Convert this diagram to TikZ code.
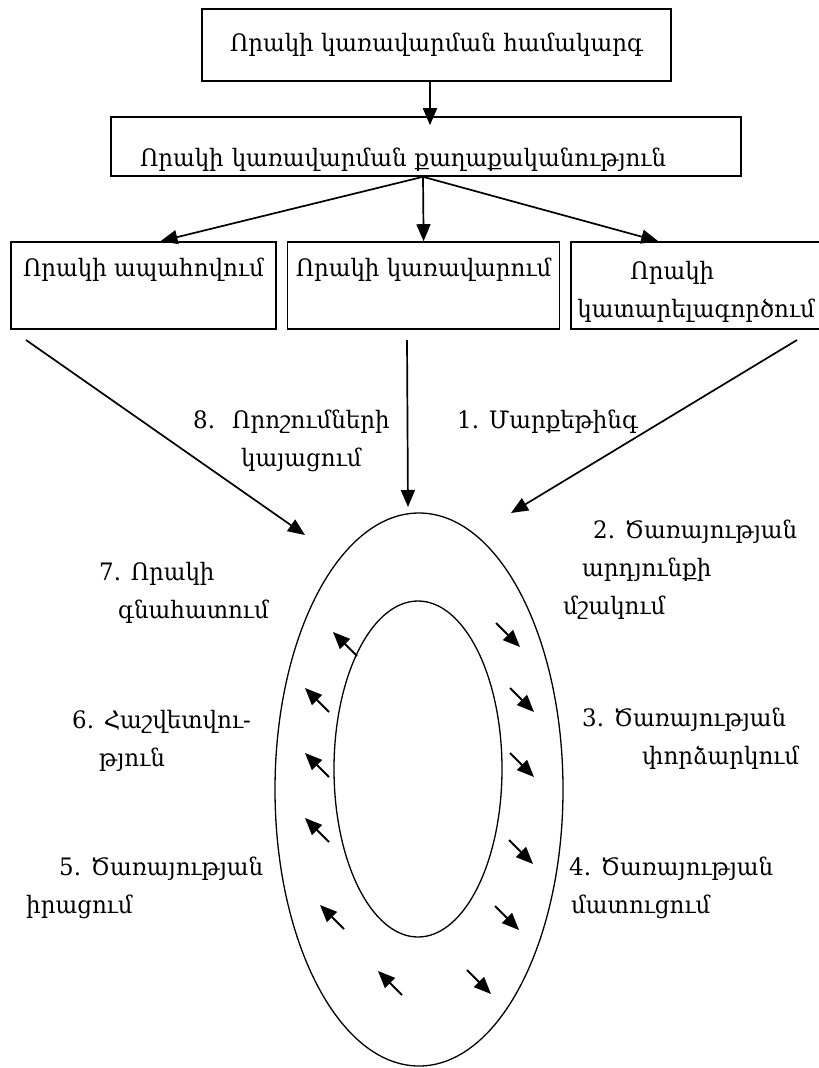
\documentclass[tikz,border=0pt]{standalone}
\usepackage{fontspec}
\setmainfont{DejaVu Serif}[FakeStretch=0.955]
\usetikzlibrary{arrows.meta,positioning}

\begin{document}
\begin{tikzpicture}[x=1pt,y=-1pt,
			node distance=10pt,
			tup/.style={draw,line width=1.6pt,inner sep=0pt,align=left,font=\fontsize{24}{38}\selectfont},
			grut/.style={inner sep=0pt,align=left,anchor=north west,font=\fontsize{24}{38}\selectfont},
			arr/.style={-{Triangle[length=17pt,width=14pt]},line width=1.7pt},
			sarr/.style={-{Triangle[length=17pt,width=14pt]},line width=2pt}
			]
			\useasboundingbox (0,0) rectangle (819,1068);
			% verin bloknery
			\node[tup,minimum width=469pt,minimum height=72pt] (hamakarg) at (436.5,45) {Որակի կառավարման համակարգ};
			\node[tup,minimum width=630pt,minimum height=59pt,text width=572pt,text height=44pt,text depth=5pt] (qaghaq) at (426,146.5) {Որակի կառավարման քաղաքականություն};
			\node[tup,minimum width=265pt,minimum height=87pt,text height=20pt,text depth=39pt] (apah) at (143.5,285.5) {Որակի ապահովում};
			\node[tup,minimum width=272pt,minimum height=87pt,text height=20pt,text depth=39pt] (karav) [right=of apah] {Որակի կառավարում};
			\node[tup,minimum width=250pt,minimum height=87pt,text height=68pt,text depth=5pt] (katar) [right=of karav] {\hspace*{53pt}Որակի\\կատարելագործում};
			\draw[arr] ([xshift=-6.5pt]hamakarg.south) -- ([xshift=4pt,yshift=-9pt]qaghaq.north);
			\draw[arr] ([xshift=-3pt]qaghaq.south) -- ([xshift=17pt]apah.north);
			\draw[arr] ([xshift=-3pt]qaghaq.south) -- (karav.north);
			\draw[arr] ([xshift=-3pt]qaghaq.south) -- ([xshift=-38pt]katar.north);
			% oghakner
			\draw[line width=1.3pt] (419,789.5) ellipse [x radius=144, y radius=276.5];
			\draw[line width=1.3pt] (418,769) ellipse [x radius=84, y radius=168];
			\coordinate (lt) at (26,340);
			\coordinate (lh) at (305,535);
			\coordinate (mt) at (407,340);
			\coordinate (mh) at (408,507);
			\coordinate (rt) at (797,340);
			\coordinate (rh) at (511,513);
			\draw[arr] (lt) -- (lh);
			\draw[arr] (mt) -- (mh);
			\draw[arr] (rt) -- (rh);
			% pokr slaqner
			\foreach \x/\y in {357/656,329/712,329/777,329/842,344/929,402/995}
			\draw[sarr] (\x,\y) -- ++(-24,-24);
			\foreach \x/\y in {496/623,510/688,510/753,509/840,495/906,467/970}
			\draw[sarr] (\x,\y) -- ++(24,24);
			% qayler
			\node[grut] (q8) at (193,410) {\makebox[39pt][l]{8.}Որոշումների\\\hspace*{48pt}կայացում};
			\node[grut] (q1) at (457,410) {1. Մարքեթինգ};
			\node[grut] (q2) at (563,520) {\hspace*{30pt}2. Ծառայության\\\hspace*{19pt}արդյունքի\\մշակում};
			\node[grut] (q3) at (582,708) {3. Ծառայության\\\hspace*{60pt}փորձարկում};
			\node[grut] (q4) at (569,857) {4. Ծառայության\\\hspace*{2pt}մատուցում};
			\node[grut] (q5) at (26,857) {\hspace*{33pt}5. Ծառայության\\իրացում};
			\node[grut] (q6) at (72,710) {6. Հաշվետվու-\\\hspace*{27pt}թյուն};
			\node[grut] (q7) at (99,562) {7. Որակի\\\hspace*{19pt}գնահատում};
		\end{tikzpicture}
\end{document}
